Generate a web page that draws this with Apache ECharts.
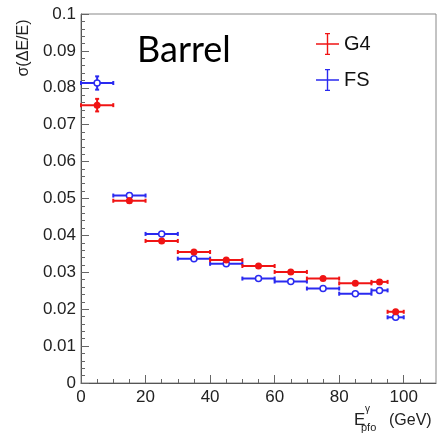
<!DOCTYPE html>
<html>
<head>
<meta charset="utf-8">
<script src="https://cdn.jsdelivr.net/npm/echarts@6/dist/echarts.min.js"></script>
<style>
html,body{margin:0;padding:0;background:#fff;}
#chart{width:437px;height:433px;}
</style>
</head>
<body>
<div id="chart"></div>
<script>
// Bins (GeV)
var binLow  = [0, 10, 20, 30, 40, 50, 60, 70, 80, 90, 95];
var binHigh = [10, 20, 30, 40, 50, 60, 70, 80, 90, 95, 100];
// sigma(dE/E)
var g4Values = [0.0753, 0.0494, 0.0385, 0.0355, 0.0333, 0.0317, 0.0301, 0.0283, 0.0270, 0.0274, 0.0193];
var g4Errors = [0.0017, 0.0006, 0.0004, 0.0004, 0.0004, 0.0004, 0.0004, 0.0004, 0.0004, 0.0005, 0.0005];
var fsValues = [0.0813, 0.0508, 0.0404, 0.0337, 0.0323, 0.0283, 0.0275, 0.0256, 0.0242, 0.0251, 0.0178];
var fsErrors = [0.0018, 0.0006, 0.0004, 0.0004, 0.0004, 0.0004, 0.0004, 0.0004, 0.0004, 0.0005, 0.0005];
var xTicks = [0, 20, 40, 60, 80, 100];
var yTicks = [0, 0.01, 0.02, 0.03, 0.04, 0.05, 0.06, 0.07, 0.08, 0.09, 0.1];

var RED = '#f01414';
var BLUE = '#2a2af0';

function buildData(vals, errs) {
  return vals.map(function (v, i) { return [binLow[i], binHigh[i], v, errs[i]]; });
}

function makeRender(color, hollow) {
  return function (params, api) {
    var lo = api.value(0), hi = api.value(1), y = api.value(2), e = api.value(3);
    var mid = (lo + hi) / 2;
    var pL = api.coord([lo, y]), pR = api.coord([hi, y]), pC = api.coord([mid, y]);
    var pT = api.coord([mid, y + e]), pB = api.coord([mid, y - e]);
    var ls = { stroke: color, lineWidth: 2 };
    var children = [
      { type: 'line', shape: { x1: pL[0], y1: pL[1], x2: pR[0], y2: pR[1] }, style: ls },
      { type: 'line', shape: { x1: pL[0], y1: pL[1] - 2, x2: pL[0], y2: pL[1] + 2 }, style: ls },
      { type: 'line', shape: { x1: pR[0], y1: pR[1] - 2, x2: pR[0], y2: pR[1] + 2 }, style: ls },
      { type: 'line', shape: { x1: pT[0], y1: pT[1], x2: pB[0], y2: pB[1] }, style: ls },
      { type: 'line', shape: { x1: pT[0] - 2, y1: pT[1], x2: pT[0] + 2, y2: pT[1] }, style: ls },
      { type: 'line', shape: { x1: pB[0] - 2, y1: pB[1], x2: pB[0] + 2, y2: pB[1] }, style: ls },
      { type: 'circle', shape: { cx: pC[0], cy: pC[1], r: hollow ? 3 : 3.5 },
        style: hollow ? { fill: '#fff', stroke: color, lineWidth: 1.5 } : { fill: color } }
    ];
    return { type: 'group', children: children };
  };
}

var crossIcon = 'path://M0,10.3h23v1.4h-23z M10.8,0h1.4v22h-1.4z M9,0h5v1.2h-5z M9,20.8h5v1.2h-5z';

var chart = echarts.init(document.getElementById('chart'), null, { renderer: 'canvas' });
var labelFont = 'Liberation Sans, Arial, Helvetica, sans-serif';
chart.setOption({
  backgroundColor: '#fff',
  animation: false,
  grid: { left: 81, right: 1, top: 14, bottom: 50, show: true, borderColor: '#888', borderWidth: 1, backgroundColor: 'transparent' },
  xAxis: {
    type: 'value', min: 0, max: 110, interval: 20,
    axisLine: { show: true, onZero: false, lineStyle: { color: '#555', width: 1 } },
    axisTick: { show: true, inside: true, length: 8, lineStyle: { color: '#666' },
      customValues: xTicks },
    minorTick: { show: true, splitNumber: 4, length: 4, lineStyle: { color: '#666' } },
    splitLine: { show: false },
    axisLabel: { color: '#222', fontSize: 17, fontFamily: labelFont, margin: 6,
      customValues: xTicks,
      formatter: function (v) { return String(v); } }
  },
  yAxis: {
    type: 'value', min: 0, max: 0.1, interval: 0.01,
    axisLine: { show: true, onZero: false, lineStyle: { color: '#555', width: 1 } },
    axisTick: { show: true, inside: true, length: 8, lineStyle: { color: '#666' } },
    minorTick: { show: true, splitNumber: 5, length: 4, lineStyle: { color: '#666' } },
    splitLine: { show: false },
    axisLabel: { color: '#222', fontSize: 17, fontFamily: labelFont, margin: 5,
      customValues: yTicks,
      formatter: function (v) { return String(+v.toFixed(3)); } }
  },
  legend: {
    orient: 'vertical', left: 311, top: 28, itemWidth: 23, itemHeight: 22, itemGap: 14,
    textStyle: { fontSize: 20, color: '#111', fontFamily: labelFont },
    data: [
      { name: 'G4', icon: crossIcon, itemStyle: { color: RED } },
      { name: 'FS', icon: crossIcon, itemStyle: { color: BLUE } }
    ]
  },
  series: [
    { name: 'G4', type: 'custom', color: RED, renderItem: makeRender(RED, false),
      encode: { x: [0, 1], y: 2 }, data: buildData(g4Values, g4Errors), z: 3 },
    { name: 'FS', type: 'custom', color: BLUE, renderItem: makeRender(BLUE, true),
      encode: { x: [0, 1], y: 2 }, data: buildData(fsValues, fsErrors), z: 2 }
  ],
  graphic: [
    { type: 'text', left: 137, top: 32, style: { text: 'Barrel', fontSize: 36, fontFamily: 'Lato, Open Sans, sans-serif', fill: '#000' } },
    { type: 'text', x: 24, y: 48, rotation: Math.PI / 2,
      style: { text: 'σ(ΔE/E)', fontSize: 16, fontFamily: labelFont, fill: '#222', align: 'center', verticalAlign: 'middle' } },
    { type: 'text', x: 354, y: 429, style: { text: 'E', fontSize: 17, fontFamily: labelFont, fill: '#222', verticalAlign: 'bottom' } },
    { type: 'text', x: 365, y: 414, style: { text: 'γ', fontSize: 10, fontFamily: labelFont, fill: '#222', verticalAlign: 'bottom' } },
    { type: 'text', x: 361, y: 433, style: { text: 'pfo', fontSize: 11, fontFamily: labelFont, fill: '#222', verticalAlign: 'bottom' } },
    { type: 'text', x: 389, y: 429, style: { text: '(GeV)', fontSize: 16, fontFamily: labelFont, fill: '#222', verticalAlign: 'bottom' } }
  ]
});
</script>
</body>
</html>
